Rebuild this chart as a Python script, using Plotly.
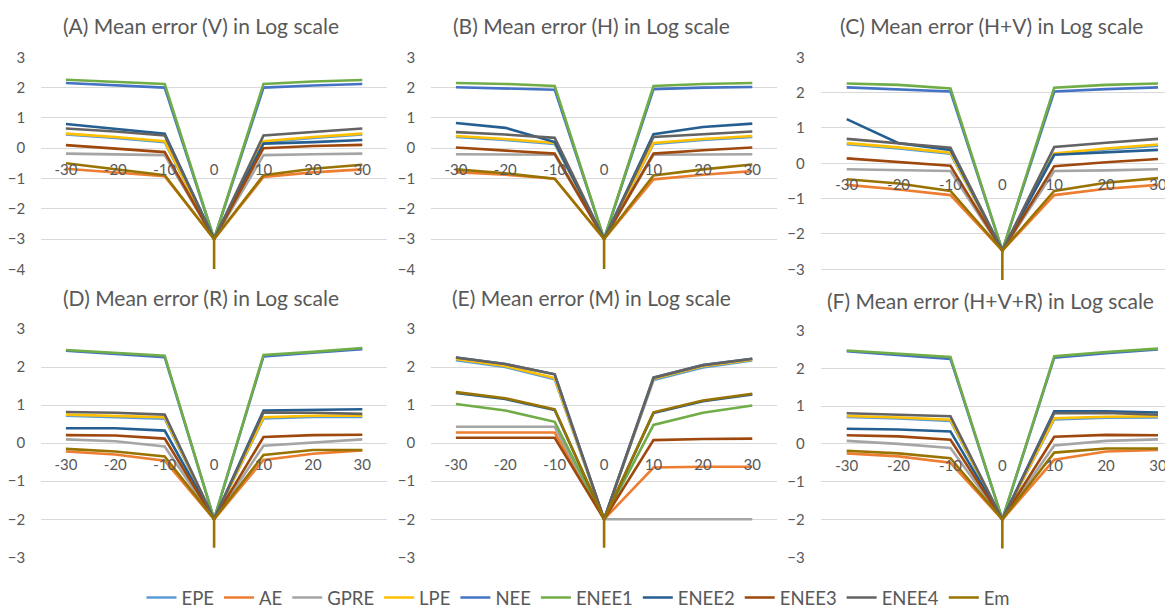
import plotly.graph_objects as go

# the page body adds an 8px margin, so the figure is drawn 8px smaller
# and all target pixel positions are shifted by that offset
OFF = 8
PAGE_W, PAGE_H = 1173, 613
W, H = PAGE_W - OFF, PAGE_H - OFF

categories = ["-30", "-20", "-10", "0", "10", "20", "30"]
series_names = ["EPE", "AE", "GPRE", "LPE", "NEE", "ENEE1", "ENEE2", "ENEE3", "ENEE4", "Em"]
colors = ["#5B9BD5", "#ED7D31", "#A5A5A5", "#FFC000", "#4472C4",
          "#70AD47", "#255E91", "#9E480E", "#636363", "#997300"]

titles = ["(A) Mean error (V) in Log scale", "(B) Mean error (H) in Log scale",
          "(C) Mean error (H+V) in Log scale", "(D) Mean error (R) in Log scale",
          "(E) Mean error (M) in Log scale", "(F) Mean error (H+V+R) in Log scale"]

# ---- Panel A ----
A_EPE = [0.45, 0.34, 0.20, -3, 0.20, 0.34, 0.45]
A_AE = [-0.68, -0.80, -0.93, -3, -0.95, -0.80, -0.70]
A_GPRE = [-0.18, -0.20, -0.23, -3, -0.23, -0.20, -0.18]
A_LPE = [0.48, 0.37, 0.23, -3, 0.23, 0.37, 0.48]
A_NEE = [2.15, 2.07, 2.00, -3, 2.00, 2.07, 2.12]
A_ENEE1 = [2.26, 2.20, 2.12, -3, 2.12, 2.20, 2.25]
A_ENEE2 = [0.80, 0.65, 0.48, -3, 0.15, 0.20, 0.27]
A_ENEE3 = [0.10, -0.02, -0.13, -3, 0.00, 0.07, 0.11]
A_ENEE4 = [0.65, 0.55, 0.42, -3, 0.42, 0.53, 0.65]
A_Em = [-0.50, -0.70, -0.89, -3, -0.89, -0.68, -0.55]

# ---- Panel B ----
B_EPE = [0.37, 0.27, 0.14, -3, 0.14, 0.27, 0.37]
B_AE = [-0.79, -0.88, -1.01, -3, -1.03, -0.88, -0.76]
B_GPRE = [-0.20, -0.20, -0.22, -3, -0.22, -0.21, -0.20]
B_LPE = [0.40, 0.30, 0.17, -3, 0.17, 0.30, 0.40]
B_NEE = [2.01, 1.98, 1.93, -3, 1.95, 2.00, 2.02]
B_ENEE1 = [2.15, 2.12, 2.05, -3, 2.05, 2.12, 2.15]
B_ENEE2 = [0.83, 0.67, 0.20, -3, 0.46, 0.70, 0.81]
B_ENEE3 = [0.02, -0.07, -0.18, -3, -0.18, -0.07, 0.02]
B_ENEE4 = [0.53, 0.45, 0.34, -3, 0.37, 0.47, 0.55]
B_Em = [-0.70, -0.83, -1.01, -3, -0.90, -0.70, -0.54]

# ---- Panel C ----
C_EPE = [0.54, 0.42, 0.27, -2.47, 0.25, 0.39, 0.50]
C_AE = [-0.61, -0.74, -0.90, -2.47, -0.90, -0.72, -0.61]
C_GPRE = [-0.17, -0.20, -0.22, -2.47, -0.22, -0.20, -0.17]
C_LPE = [0.57, 0.45, 0.30, -2.47, 0.28, 0.42, 0.53]
C_NEE = [2.15, 2.10, 2.03, -2.47, 2.03, 2.10, 2.15]
C_ENEE1 = [2.26, 2.22, 2.12, -2.47, 2.14, 2.22, 2.26]
C_ENEE2 = [1.25, 0.57, 0.38, -2.47, 0.24, 0.31, 0.38]
C_ENEE3 = [0.14, 0.04, -0.07, -2.47, -0.08, 0.03, 0.12]
C_ENEE4 = [0.69, 0.57, 0.44, -2.47, 0.46, 0.58, 0.69]
C_Em = [-0.45, -0.57, -0.78, -2.47, -0.78, -0.55, -0.42]

# ---- Panel D ----
D_EPE = [0.72, 0.69, 0.64, -2, 0.65, 0.69, 0.69]
D_AE = [-0.22, -0.30, -0.46, -2, -0.44, -0.28, -0.19]
D_GPRE = [0.10, 0.05, -0.09, -2, -0.07, 0.02, 0.10]
D_LPE = [0.75, 0.72, 0.68, -2, 0.68, 0.72, 0.72]
D_NEE = [2.43, 2.35, 2.26, -2, 2.28, 2.38, 2.47]
D_ENEE1 = [2.45, 2.37, 2.30, -2, 2.32, 2.40, 2.50]
D_ENEE2 = [0.39, 0.39, 0.33, -2, 0.86, 0.88, 0.89]
D_ENEE3 = [0.21, 0.20, 0.12, -2, 0.16, 0.21, 0.22]
D_ENEE4 = [0.82, 0.80, 0.75, -2, 0.81, 0.80, 0.77]
D_Em = [-0.15, -0.22, -0.35, -2, -0.31, -0.18, -0.18]

# ---- Panel E ----
E_EPE = [2.18, 2.00, 1.68, -2, 1.66, 1.99, 2.17]
E_AE = [0.28, 0.28, 0.28, -2, -0.64, -0.62, -0.62]
E_GPRE = [0.43, 0.43, 0.43, -2, -2, -2, -2]
E_LPE = [2.21, 2.03, 1.71, -2, 1.69, 2.02, 2.19]
E_NEE = [2.25, 2.08, 1.81, -2, 1.72, 2.05, 2.22]
E_ENEE1 = [1.03, 0.86, 0.56, -2, 0.48, 0.80, 0.99]
E_ENEE2 = [1.32, 1.16, 0.87, -2, 0.79, 1.10, 1.28]
E_ENEE3 = [0.14, 0.14, 0.14, -2, 0.08, 0.11, 0.12]
E_ENEE4 = [2.25, 2.08, 1.81, -2, 1.72, 2.05, 2.22]
E_Em = [1.34, 1.18, 0.89, -2, 0.81, 1.12, 1.30]

# ---- Panel F ----
F_EPE = [0.71, 0.67, 0.61, -2, 0.65, 0.69, 0.70]
F_AE = [-0.25, -0.33, -0.50, -2, -0.42, -0.20, -0.16]
F_GPRE = [0.08, 0.00, -0.11, -2, -0.04, 0.08, 0.12]
F_LPE = [0.74, 0.70, 0.64, -2, 0.68, 0.72, 0.73]
F_NEE = [2.45, 2.35, 2.25, -2, 2.28, 2.40, 2.50]
F_ENEE1 = [2.47, 2.38, 2.30, -2, 2.32, 2.43, 2.52]
F_ENEE2 = [0.40, 0.38, 0.33, -2, 0.86, 0.86, 0.83]
F_ENEE3 = [0.23, 0.20, 0.11, -2, 0.19, 0.24, 0.23]
F_ENEE4 = [0.81, 0.78, 0.73, -2, 0.81, 0.82, 0.77]
F_Em = [-0.18, -0.25, -0.38, -2, -0.23, -0.12, -0.12]

# bottom end of the Em-coloured vertical segment at category "0"
drop_bottom = [-4, -4, -3.3, -2.75, -2.75, -2.77]
y_ranges = [(-4, 3), (-4, 3), (-3.3, 3), (-3, 3), (-3, 3), (-3, 3)]

panels = [
    [A_EPE, A_AE, A_GPRE, A_LPE, A_NEE, A_ENEE1, A_ENEE2, A_ENEE3, A_ENEE4, A_Em],
    [B_EPE, B_AE, B_GPRE, B_LPE, B_NEE, B_ENEE1, B_ENEE2, B_ENEE3, B_ENEE4, B_Em],
    [C_EPE, C_AE, C_GPRE, C_LPE, C_NEE, C_ENEE1, C_ENEE2, C_ENEE3, C_ENEE4, C_Em],
    [D_EPE, D_AE, D_GPRE, D_LPE, D_NEE, D_ENEE1, D_ENEE2, D_ENEE3, D_ENEE4, D_Em],
    [E_EPE, E_AE, E_GPRE, E_LPE, E_NEE, E_ENEE1, E_ENEE2, E_ENEE3, E_ENEE4, E_Em],
    [F_EPE, F_AE, F_GPRE, F_LPE, F_NEE, F_ENEE1, F_ENEE2, F_ENEE3, F_ENEE4, F_Em],
]

# layout geometry (target page pixels): first / last category centres
cat_px = [(65.9, 362.3), (455.9, 752.3), (846.7, 1158.0),
          (65.9, 362.3), (455.9, 752.3), (846.7, 1158.0)]
y_px = [(57.3, 269.3), (57.3, 269.3), (57.3, 279.9),
        (329.0, 557.3), (329.0, 557.3), (330.5, 557.3)]
title_pos = [(201.5, 25), (591.5, 25), (991, 25), (201.5, 297), (591.7, 297), (990, 300)]
RIGHT_LIMIT = PAGE_W


def px_x(v):
    return min(max((v - OFF) / W, 0.0), 1.0)


def px_y(v):
    return min(max(1 - (v - OFF) / H, 0.0), 1.0)


FONT = "Lato, Open Sans, sans-serif"
TXT = "#595959"

fig = go.Figure()
layout = dict(width=W, height=H,
              margin=dict(l=0, r=0, t=0, b=0, pad=0, autoexpand=False),
              paper_bgcolor="white", plot_bgcolor="white",
              font=dict(family=FONT, color=TXT), annotations=[])

n = len(categories)
for p in range(6):
    xa = "x" if p == 0 else f"x{p+1}"
    ya = "y" if p == 0 else f"y{p+1}"
    for s, name in enumerate(series_names):
        fig.add_trace(go.Scatter(
            x=categories, y=panels[p][s], mode="lines", name=name,
            line=dict(color=colors[s], width=2.6),
            legendgroup=name, showlegend=(p == 0), xaxis=xa, yaxis=ya,
            hoverinfo="skip"))
    em = panels[p][series_names.index("Em")]
    zero_i = categories.index("0")
    fig.add_trace(go.Scatter(
        x=[categories[zero_i], categories[zero_i]], y=[em[zero_i], drop_bottom[p]],
        mode="lines", line=dict(color=colors[-1], width=2.6),
        showlegend=False, legendgroup="Em", xaxis=xa, yaxis=ya, hoverinfo="skip"))

    c0, c1 = cat_px[p]
    step = (c1 - c0) / (n - 1)
    left = c0 - step / 2
    right = min(c1 + step / 2, RIGHT_LIMIT)
    xr = [-0.5, (n - 1) + (right - c1) / step]
    ytop, ybot = y_px[p]
    yd = (px_y(ybot), px_y(ytop))
    ymin, ymax = y_ranges[p]
    pos0 = yd[0] + (0 - ymin) / (ymax - ymin) * (yd[1] - yd[0])
    kx = "xaxis" if p == 0 else f"xaxis{p+1}"
    ky = "yaxis" if p == 0 else f"yaxis{p+1}"
    layout[kx] = dict(domain=[px_x(left), px_x(right)], range=xr,
                      type="category", anchor="free", position=pos0,
                      showgrid=False, zeroline=False, showline=False, ticks="",
                      automargin=False,
                      tickfont=dict(size=15, color=TXT, family=FONT),
                      ticklabelstandoff=11, fixedrange=True)
    layout[ky] = dict(domain=list(yd), range=[ymin, ymax], anchor=xa,
                      dtick=1, tick0=0, showgrid=True, gridcolor="#D9D9D9", gridwidth=1,
                      zeroline=False, showline=False, ticks="", automargin=False,
                      tickfont=dict(size=15, color=TXT, family=FONT),
                      ticklabelstandoff=15, fixedrange=True)
    tx, ty = title_pos[p]
    layout["annotations"].append(dict(
        text=titles[p], x=px_x(tx), y=px_y(ty), xref="paper", yref="paper",
        xanchor="center", yanchor="middle", showarrow=False,
        font=dict(size=21, color=TXT, family=FONT)))

layout["legend"] = dict(orientation="h", x=px_x(578), xanchor="center",
                        y=px_y(598), yanchor="middle",
                        font=dict(size=18.5, color=TXT, family=FONT),
                        itemwidth=30, tracegroupgap=0, bgcolor="rgba(0,0,0,0)")
fig.update_layout(**layout)
fig.write_html("out.html")
